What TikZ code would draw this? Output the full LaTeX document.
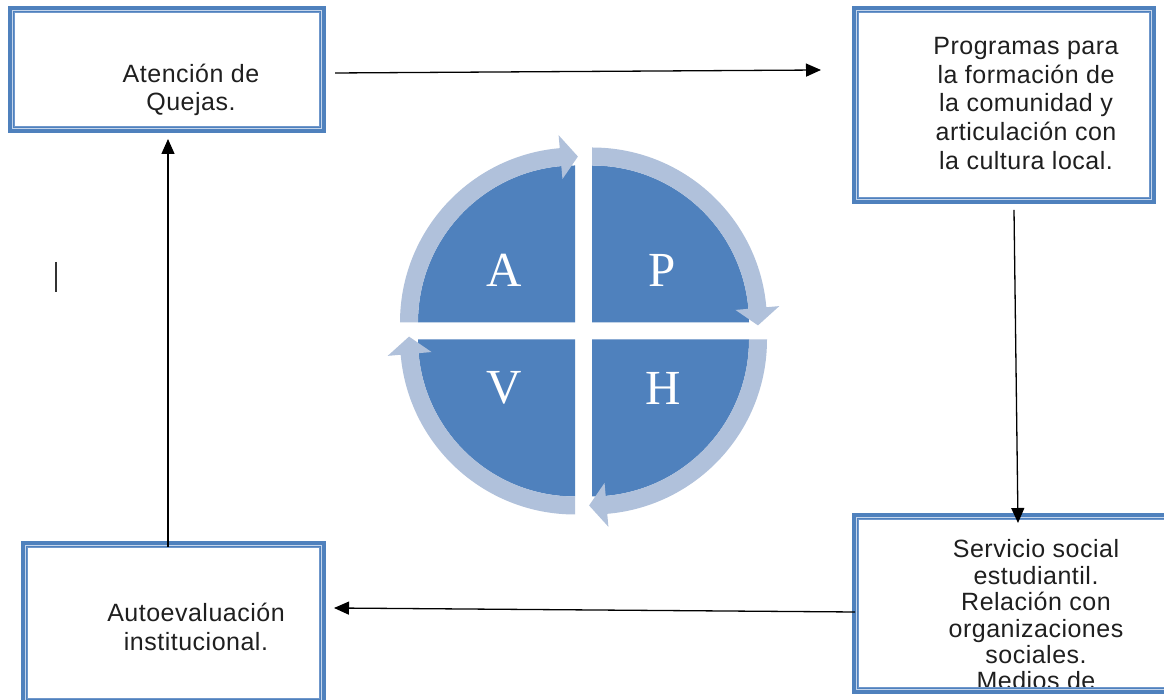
\documentclass[tikz,border=0pt]{standalone}
\usepackage{fontspec}
\setmainfont{Liberation Sans}[LetterSpace=2]
\newfontfamily\letterfont{Liberation Serif}
\usetikzlibrary{arrows.meta}
\definecolor{boxblue}{HTML}{4F81BD}
\definecolor{lightline}{HTML}{C6D6EC}
\definecolor{innerblue}{HTML}{6F97CB}
\definecolor{ringblue}{HTML}{B0C1DB}
\begin{document}
\begin{tikzpicture}[x=1pt,y=1pt,
  bbox/.style={draw=boxblue, line width=7pt, fill=white, inner sep=0pt},
  lightln/.style={draw=lightline, line width=1.6pt},
  innerln/.style={draw=innerblue, line width=1.2pt},
  txt/.style={align=center, inner sep=0pt, text=black!88},
  conn/.style={draw=black, line width=1.3pt, -{Triangle[length=15pt,width=13pt]}},
  letter/.style={text=white, font=\letterfont\fontsize{49}{49}\selectfont, inner sep=0pt}]
\useasboundingbox (0,0) rectangle (1164,700);
\fill[white] (0,0) rectangle (1164,700);
\begin{scope}
\clip (0,0) rectangle (1164,700);
% boxes
\node[bbox, minimum width=311pt, minimum height=120pt] (b1) at (167,630.5) {};
\node[bbox, minimum width=297pt, minimum height=191pt] (b2) at (1004,595) {};
\node[bbox, minimum width=313pt, minimum height=174pt] (b3) at (1012,96.5) {};
\node[bbox, minimum width=298pt, minimum height=157pt] (b4) at (173.5,77) {};
\foreach \b in {b1,b2,b3,b4}{
  \draw[lightln] ([shift={(4.6,-4.6)}]\b.north west) rectangle ([shift={(-4.6,4.6)}]\b.south east);
  \draw[innerln] ([shift={(6.8,-6.8)}]\b.north west) rectangle ([shift={(-6.8,6.8)}]\b.south east);
}
% texts
\node[txt, font=\fontsize{25}{28}\selectfont] (t1) at (191,610) {Atención de\\Quejas.};
\node[txt, font=\fontsize{25}{28.7}\selectfont] (t2) at (1026,596.5) {Programas para\\la formación de\\la comunidad y\\articulación con\\la cultura local.};
\begin{scope}
\clip ([shift={(7,-7)}]b3.north west) rectangle ([shift={(-7,7)}]b3.south east);
\node[txt, font=\fontsize{25}{26.4}\selectfont] (t3) at (1036,85) {Servicio social\\estudiantil.\\Relación con\\organizaciones\\sociales.\\Medios de};
\end{scope}
\node[txt, font=\fontsize{25}{29}\selectfont] (t4) at (196,73.5) {Autoevaluación\\institucional.};
\end{scope}
% connectors
\coordinate (a1s) at (335,627);
\coordinate (a1e) at (821,630);
\coordinate (a2s) at (1014,490);
\coordinate (a2e) at (1018,177);
\coordinate (a3s) at (855,88);
\coordinate (a3e) at (334,92);
\coordinate (a4s) at (168,153);
\coordinate (a4e) at (168,561);
\draw[conn] (a1s) -- (a1e);
\draw[conn] (a2s) -- (a2e);
\draw[conn] (a3s) -- (a3e);
\draw[conn] (a4s) -- (a4e);
% cursor mark
\coordinate (cur1) at (56,438);
\coordinate (cur2) at (56,408);
\draw[line width=2pt, black!80] (cur1) -- (cur2);
% cycle
\foreach \cx/\cy/\s in {575/377.5/180, 592/377.5/90, 592/360.5/360, 575/360.5/270}{
  \begin{scope}[shift={(\cx,\cy)}]
    \fill[boxblue] (0,0) -- ({\s}:157) arc[start angle=\s, end angle=\s-90, radius=157] -- cycle;
    \fill[ringblue] ({\s}:175) arc[start angle=\s, end angle=\s-85, radius=175]
      -- ({\s-85}:188) -- ({\s-91}:166) -- ({\s-85}:144) -- ({\s-85}:157)
      arc[start angle=\s-85, end angle=\s, radius=157] -- cycle;
  \end{scope}
}
\node[letter] (qA) at (504,430) {A};
\node[letter] (qP) at (662,430) {P};
\node[letter] (qV) at (504,312) {V};
\node[letter] (qH) at (663,312) {H};
\end{tikzpicture}
\end{document}
